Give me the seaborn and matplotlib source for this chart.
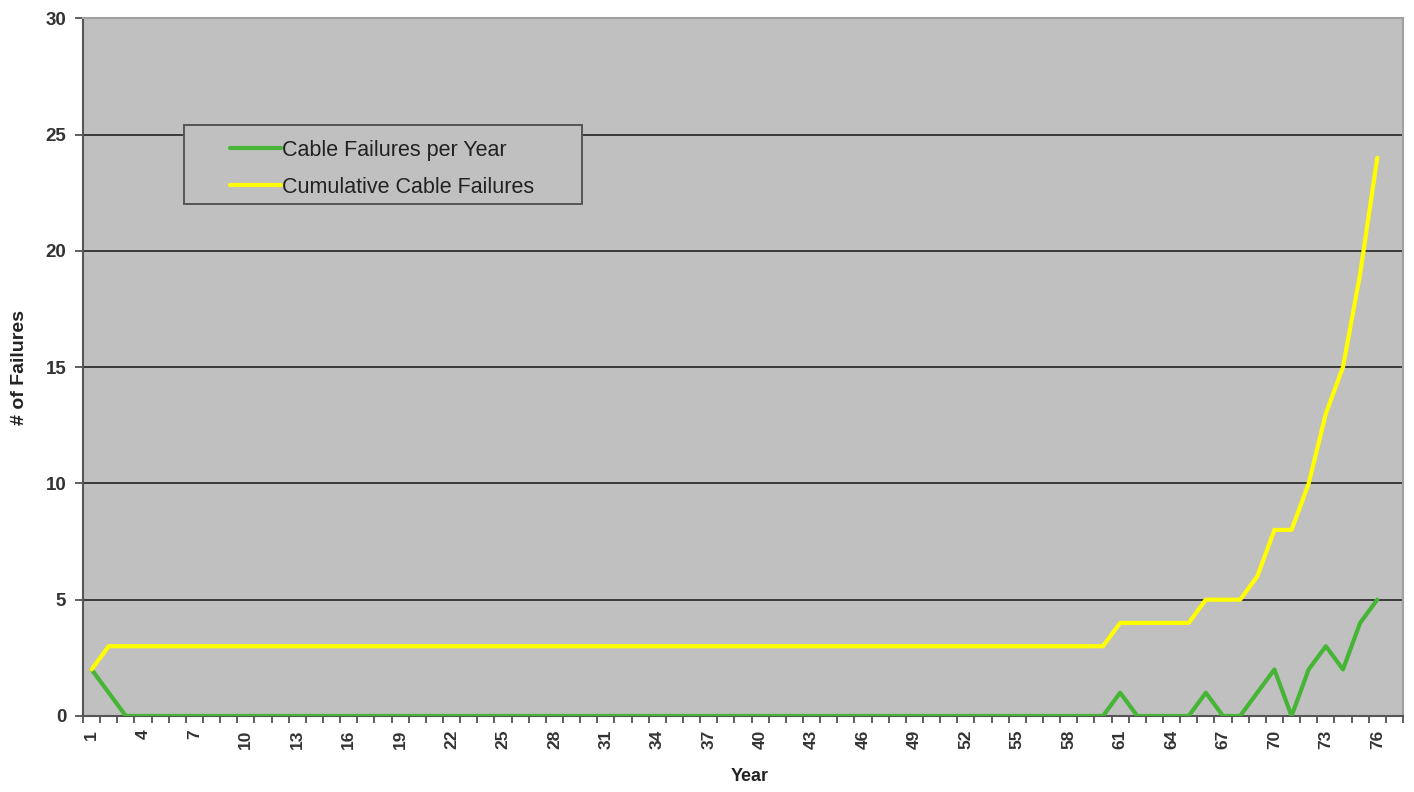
import matplotlib
matplotlib.use("Agg")
import matplotlib.pyplot as plt
from matplotlib.patches import Rectangle
import seaborn as sns
import pandas as pd

# ---- data ----
years = list(range(1, 77))
per_year = [
    2, 1, 0, 0, 0, 0, 0, 0, 0, 0,
    0, 0, 0, 0, 0, 0, 0, 0, 0, 0,
    0, 0, 0, 0, 0, 0, 0, 0, 0, 0,
    0, 0, 0, 0, 0, 0, 0, 0, 0, 0,
    0, 0, 0, 0, 0, 0, 0, 0, 0, 0,
    0, 0, 0, 0, 0, 0, 0, 0, 0, 0,
    1, 0, 0, 0, 0, 1, 0, 0, 1, 2,
    0, 2, 3, 2, 4, 5,
]
cumulative = [
    2, 3, 3, 3, 3, 3, 3, 3, 3, 3,
    3, 3, 3, 3, 3, 3, 3, 3, 3, 3,
    3, 3, 3, 3, 3, 3, 3, 3, 3, 3,
    3, 3, 3, 3, 3, 3, 3, 3, 3, 3,
    3, 3, 3, 3, 3, 3, 3, 3, 3, 3,
    3, 3, 3, 3, 3, 3, 3, 3, 3, 3,
    4, 4, 4, 4, 4, 5, 5, 5, 6, 8,
    8, 10, 13, 15, 19, 24,
]
series_names = ["Cable Failures per Year", "Cumulative Cable Failures"]
series_colors = ["#46B536", "#FFFF00"]
y_ticks = [0, 5, 10, 15, 20, 25, 30]
x_tick_labels = years[::3]

df = pd.DataFrame({
    "Year": years + years,
    "Failures": per_year + cumulative,
    "Series": [series_names[0]] * len(years) + [series_names[1]] * len(years),
})

sns.set_style("white")
plt.rcParams["font.family"] = ["Liberation Sans", "DejaVu Sans"]

fig = plt.figure(figsize=(14.14, 7.92), dpi=100)
ax = fig.add_axes([0.0587, 0.096, 0.9335, 0.881])
ax.set_facecolor("#C0C0C0")

# gridlines (Excel style, dark)
for v in y_ticks[1:]:
    ax.axhline(v, color="#3A3A3A", lw=1.4, zorder=1)

sns.lineplot(data=df, x="Year", y="Failures", hue="Series",
             hue_order=series_names, palette=series_colors,
             linewidth=3.0, ax=ax, zorder=3)

ax.set_xlim(0.5, 77.5)
ax.set_ylim(0, 30)
ax.set_yticks(y_ticks)
ax.set_xticks(x_tick_labels)
ax.set_xticklabels([str(v) for v in x_tick_labels], rotation=90,
                   fontsize=12.5, fontweight="bold", color="#333333")
ax.set_xticks([v + 0.5 for v in range(0, 78)], minor=True)
ax.tick_params(axis="x", which="major", length=0, pad=10)
ax.tick_params(axis="x", which="minor", length=5, width=1.2,
               color="#444444", direction="out", bottom=True)
ax.tick_params(axis="y", length=6, width=1.2, color="#444444",
               direction="out", left=True, labelsize=13.5,
               labelcolor="#333333", pad=6)
for lab in ax.get_yticklabels():
    lab.set_fontweight("bold")

for side in ["left", "bottom"]:
    ax.spines[side].set_color("#555555")
    ax.spines[side].set_linewidth(1.5)
for side in ["top", "right"]:
    ax.spines[side].set_color("#A0A0A0")
    ax.spines[side].set_linewidth(1.5)

ax.set_xlabel("Year", fontsize=13, fontweight="bold", color="#222222")
ax.set_ylabel("# of Failures", fontsize=14, fontweight="bold", color="#222222")
ax.xaxis.set_label_coords(0.505, -0.075)
ax.yaxis.set_label_coords(-0.042, 0.5)

# legend box drawn as in Excel (wide frame, handles inset)
ax.add_patch(Rectangle((0.0765, 0.7335), 0.3015, 0.1132, transform=ax.transAxes,
                       facecolor="#C0C0C0", edgecolor="#555555", lw=1.4, zorder=5))
leg = ax.legend(loc="upper left", bbox_to_anchor=(0.111, 0.826),
                frameon=False, fontsize=15.5, handlelength=2.4,
                handletextpad=0.05, borderpad=0, labelspacing=0.75,
                borderaxespad=0)
for txt in leg.get_texts():
    txt.set_color("#222222")
for line in leg.get_lines():
    line.set_linewidth(3.0)
leg.set_zorder(6)

fig.savefig("out.png", dpi=100)
